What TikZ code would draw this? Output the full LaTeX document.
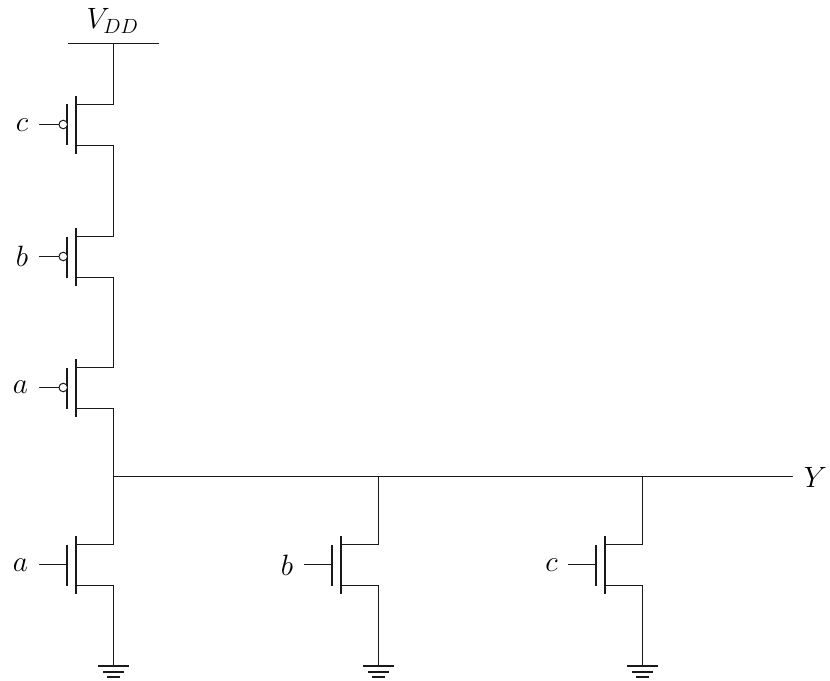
\documentclass[tikz,border=0pt]{standalone}
\usepackage{fix-cm}
\tikzset{
  wire/.style={line width=1bp,black!90},
  chan/.style={line width=2bp,black!90},
  gnda/.style={line width=2bp,black!90},
  lbl/.style={inner sep=0pt,font=\fontsize{29.5}{33}\selectfont},
}
% #1 name, #2 drain x, #3 centre y
\newcommand{\fet}[3]{%
  \coordinate (#1c) at (#2,#3);
  \coordinate (#1d) at (#2,#3-20.5);
  \coordinate (#1s) at (#2,#3+20.5);
  \coordinate (#1dc) at (#2-37,#3-20.5);
  \coordinate (#1sc) at (#2-37,#3+20.5);
  \coordinate (#1t) at (#2-37.5,#3-29);
  \coordinate (#1u) at (#2-37.5,#3+29);
  \coordinate (#1gt) at (#2-46.5,#3-20.5);
  \coordinate (#1gb) at (#2-46.5,#3+20.5);
  \coordinate (#1g) at (#2-46,#3-0.5);
  \coordinate (#1in) at (#2-74.5,#3-0.5);
  \draw[chan] (#1t) -- (#1u);
  \draw[chan] (#1gt) -- (#1gb);
  \draw[wire] (#1d) -- (#1dc);
  \draw[wire] (#1s) -- (#1sc);
}
\newcommand{\gndsym}[2]{%
  \coordinate (#1top) at (#2,666);
  \draw[gnda] (#2-15.5,666) -- (#2+15.5,666);
  \draw[gnda] (#2-10.5,671.5) -- (#2+10.5,671.5);
  \draw[gnda] (#2-6.5,677) -- (#2+6.5,677);
}
\begin{document}
\begin{tikzpicture}[x=1bp,y=-1bp]
\useasboundingbox (0,0) rectangle (830,681);
% supply
\coordinate (vl) at (68,43.5);
\coordinate (vr) at (159,43.5);
\coordinate (vm) at (113.5,43.5);
\draw[wire] (vl) -- (vr);
\node[lbl] (vdd) at (112.5,21) {$V_{DD}$};
% transistors
\fet{pc}{113.5}{125}
\fet{pb}{113.5}{257}
\fet{pa}{113.5}{388}
\fet{na}{113.5}{565}
\fet{nb}{378.5}{565}
\fet{nc}{642.5}{565}
% pMOS gates
\foreach \t in {pc,pb,pa}{
  \node[circle,draw=black!90,line width=1bp,fill=white,minimum size=8.5bp,inner sep=0pt,anchor=east] (\t bub) at ([xshift=0.5bp]\t g) {};
  \draw[wire] (\t in) -- (\t bub.west);
}
% nMOS gates
\foreach \t in {na,nb,nc}{
  \draw[wire] (\t in) -- (\t g);
}
% labels
\node[lbl] (lc) at (22,125) {$c$};
\node[lbl] (lb) at (22,256.5) {$b$};
\node[lbl] (la) at (20.5,387.5) {$a$};
\node[lbl] (lna) at (20.5,565) {$a$};
\node[lbl] (lnb) at (287,565) {$b$};
\node[lbl] (lnc) at (551.5,565) {$c$};
\node[lbl] (ly) at (815.5,477) {$Y$};
% output
\coordinate (oa) at (113.5,476.5);
\coordinate (ob) at (378.5,476.5);
\coordinate (oc) at (642.5,476.5);
\coordinate (oy) at (793,476.5);
\draw[wire] (oa) -- (oy);
% verticals
\draw[wire] (vm) -- (pcd);
\draw[wire] (pcs) -- (pbd);
\draw[wire] (pbs) -- (pad);
\draw[wire] (pas) -- (oa) -- (nad);
\draw[wire] (ob) -- (nbd);
\draw[wire] (oc) -- (ncd);
\gndsym{ga}{113.5}
\gndsym{gb}{378.5}
\gndsym{gc}{642.5}
\draw[wire] (nas) -- (gatop);
\draw[wire] (nbs) -- (gbtop);
\draw[wire] (ncs) -- (gctop);
\end{tikzpicture}
\end{document}
